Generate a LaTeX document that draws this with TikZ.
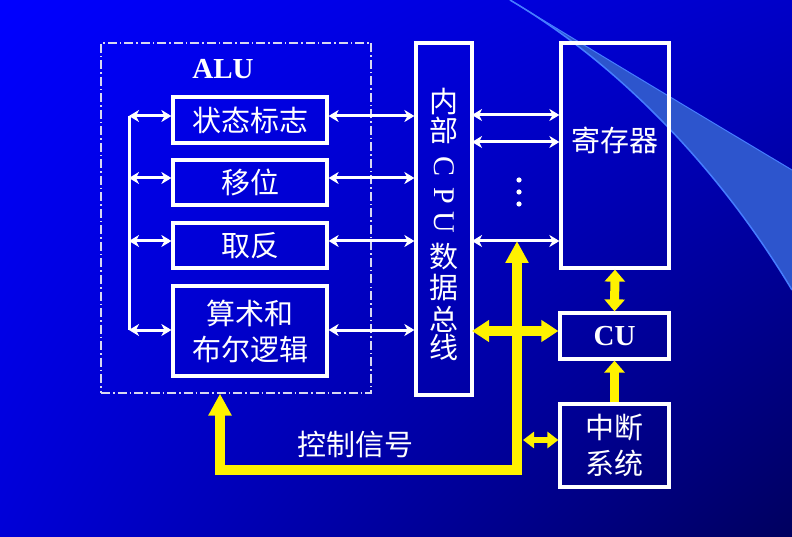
\documentclass[tikz,border=0pt]{standalone}
\usepackage{fontspec}
\setmainfont{Liberation Serif}
\newfontfamily\cjk{Noto Sans CJK SC}
\usepackage{xcolor}
\usepackage{tikz}
\usetikzlibrary{arrows.meta, positioning, calc, shadings}

\definecolor{bgul}{RGB}{0,0,255}
\definecolor{bgur}{RGB}{0,0,200}
\definecolor{bgll}{RGB}{0,0,215}
\definecolor{bglr}{RGB}{0,0,95}
\definecolor{swooshfill}{RGB}{45,85,205}
\definecolor{swooshedge}{RGB}{70,125,255}
\definecolor{dashline}{RGB}{215,215,240}

\begin{document}
\begin{tikzpicture}[
    x=1pt, y=-1pt,
    box/.style={rectangle, draw=white, line width=3.2pt, text=white, font=\cjk\fontsize{29}{36}\selectfont, align=center, inner sep=0pt},
    alubox/.style={rectangle, draw=dashline, line width=1.2pt, dash pattern=on 9pt off 3pt on 1.5pt off 3pt},
    lbl/.style={text=white, font=\cjk\fontsize{29}{36}\selectfont, inner sep=0pt},
    latin/.style={text=white, font=\bfseries\fontsize{29}{34}\selectfont, inner sep=0pt},
    cpu/.style={text=white, font=\fontsize{30}{34}\selectfont, inner sep=0pt},
    arrow/.style={white, line width=3pt, {Stealth[length=10pt,width=12pt,inset=3pt]}-{Stealth[length=10pt,width=12pt,inset=3pt]}},
    wline/.style={white, line width=3pt},
    ybig/.tip={Triangle[width=22pt,length=22pt]},
    ylk/.tip={Triangle[width=20pt,length=12pt]},
    ysm/.tip={Triangle[width=16pt,length=11pt]},
    ybus/.style={yellow, line width=10pt},
    ylink/.style={yellow, line width=9pt},
    ysmall/.style={yellow, line width=6pt}
]

% background
\useasboundingbox (0,0) rectangle (792,537);
\shade[upper left=bgul, upper right=bgur, lower left=bgll, lower right=bglr] (0,0) rectangle (792,537);
\fill[swooshfill] (510,0) .. controls (620,65) and (720,170) .. (792,290) -- (792,170) .. controls (700,115) and (600,55) .. (510,0) -- cycle;
\draw[swooshedge, line width=1.5pt] (510,0) .. controls (620,65) and (720,170) .. (792,290);
\draw[swooshedge, line width=1pt] (510,0) .. controls (600,55) and (700,115) .. (792,170);

% ALU part
\node[alubox, minimum width=270pt, minimum height=350pt] (alu) at (236,218) {};
\node[latin] (alulabel) at (223,69) {ALU};
\node[box, minimum width=154pt, minimum height=46pt] (flag) at (250,120) {状态标志};
\node[box, minimum width=154pt, minimum height=45pt] (shift) at (250,182.5) {移位};
\node[box, minimum width=154pt, minimum height=45pt] (inv) at (250,245.5) {取反};
\node[box, minimum width=154pt, minimum height=90pt] (logic) at (250,331) {算术和\\布尔逻辑};

% internal bus
\node[box, minimum width=56pt, minimum height=352pt] (bus) at (444,219) {};
\foreach \ch/\yy in {内/102, 部/130, 数/257, 据/288, 总/319, 线/347}
    \node[lbl] (bus-\yy) at (444,\yy) {\ch};
\foreach \ch/\yy in {C/167, P/196, U/222}
    \node[cpu, rotate=-90] (bus-\ch) at (444,\yy) {\ch};

% right side
\node[box, minimum width=108pt, minimum height=225pt] (reg) at (615,155.5) {};
\node[lbl] (regtext) at (615,140) {寄存器};
\node[box, minimum width=109pt, minimum height=46pt, font=\bfseries\fontsize{29}{34}\selectfont] (cu) at (614.5,336) {CU};
\node[box, minimum width=109pt, minimum height=83pt] (int) at (614.5,445.5) {中断\\系统};

% white links
\foreach \b/\yy in {flag/116, shift/178, inv/241, logic/330} {
    \coordinate (l-\b) at (129,\yy);
    \draw[arrow] (l-\b) -- (l-\b -| \b.west);
    \draw[arrow] (l-\b -| \b.east) -- (l-\b -| bus.west);
}
\draw[wline] (l-flag) -- (l-logic);
\foreach \yy [count=\i] in {115, 142, 241} {
    \coordinate (r\i) at (472,\yy);
    \draw[arrow] (r\i) -- (r\i -| reg.west);
}
\foreach \yy in {180, 192, 204}
    \fill[white] (519,\yy) circle (2.6pt);

% control signals
\coordinate (ytop) at (517,241);
\coordinate (ybot) at (517,470);
\coordinate (yleft) at (220,470);
\draw[ybus, ybig-ybig] (ytop) -- (ybot) -- (yleft) -- (yleft |- alu.south);
\coordinate (ybus) at (472,331);
\draw[ybus, {Triangle[width=21pt,length=17pt]}-{Triangle[width=21pt,length=17pt]}] (ybus) -- (ybus -| cu.west);
\coordinate (yint) at (523,440);
\draw[ysmall, ysm-ysm] (yint) -- (yint -| int.west);
\draw[ylink, ylk-ylk] (reg.south) -- (cu.north);
\draw[ylink, -ylk] (int.north) -- (cu.south);
\node[lbl] (ctrl) at (355,445) {控制信号};

\end{tikzpicture}
\end{document}
